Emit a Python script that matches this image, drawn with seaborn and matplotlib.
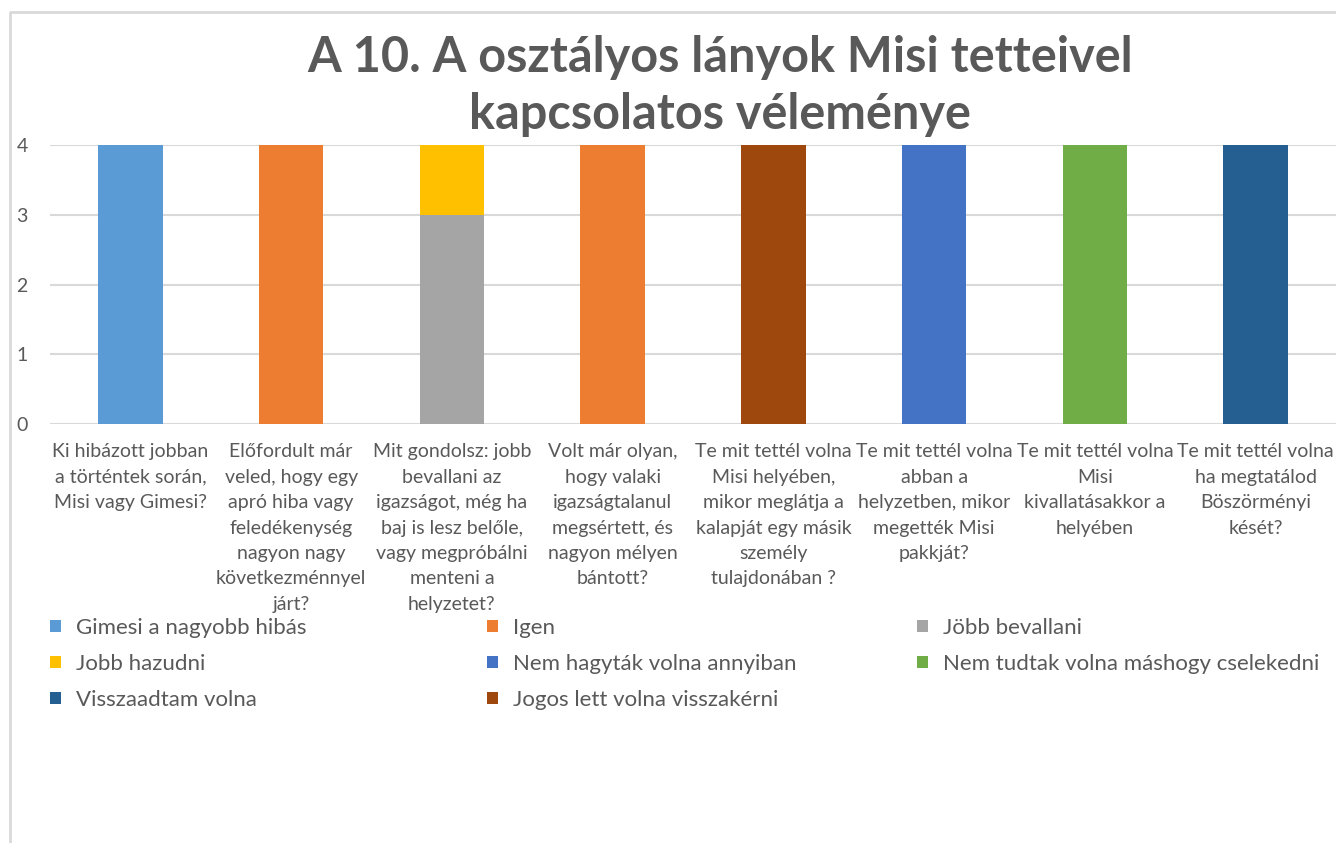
import numpy as np
import pandas as pd
import seaborn as sns
import matplotlib.pyplot as plt
from matplotlib.patches import Patch
from matplotlib.lines import Line2D

# kérdések (x tengely)
questions = [
    "Ki hibázott jobban\na történtek során,\nMisi vagy Gimesi?",
    "Előfordult már\nveled, hogy egy\napró hiba vagy\nfeledékenység\nnagyon nagy\nkövetkezménnyel\njárt?",
    "Mit gondolsz: jobb\nbevallani az\nigazságot, még ha\nbaj is lesz belőle,\nvagy megpróbálni\nmenteni a\nhelyzetet?",
    "Volt már olyan,\nhogy valaki\nigazságtalanul\nmegsértett, és\nnagyon mélyen\nbántott?",
    "Te mit tettél volna\nMisi helyében,\nmikor meglátja a\nkalapját egy másik\nszemély\ntulajdonában ?",
    "Te mit tettél volna\nabban a\nhelyzetben, mikor\nmegették Misi\npakkját?",
    "Te mit tettél volna\nMisi\nkivallatásakkor a\nhelyében",
    "Te mit tettél volna\nha megtatálod\nBöszörményi\nkését?",
]

# válaszok (sorozatok) és darabszámok kérdésenként
answers = [
    "Gimesi a nagyobb hibás",
    "Igen",
    "Jöbb bevallani",
    "Jobb hazudni",
    "Nem hagyták volna annyiban",
    "Nem tudtak volna máshogy cselekedni",
    "Visszaadtam volna",
    "Jogos lett volna visszakérni",
]
gimesi = [4, 0, 0, 0, 0, 0, 0, 0]
igen = [0, 4, 0, 4, 0, 0, 0, 0]
bevallani = [0, 0, 3, 0, 0, 0, 0, 0]
hazudni = [0, 0, 1, 0, 0, 0, 0, 0]
nem_hagytak = [0, 0, 0, 0, 0, 4, 0, 0]
nem_tudtak = [0, 0, 0, 0, 0, 0, 4, 0]
visszaadtam = [0, 0, 0, 0, 0, 0, 0, 4]
jogos = [0, 0, 0, 0, 4, 0, 0, 0]

colors = ["#5B9BD5", "#ED7D31", "#A5A5A5", "#FFC000",
          "#4472C4", "#70AD47", "#255E91", "#9E480E"]

yticks = [0, 1, 2, 3, 4]
title = "A 10. A osztályos lányok Misi tetteivel\nkapcsolatos véleménye"

TEXT = "#595959"
GRID = "#D9D9D9"
FONT = "Lato"

sns.set_theme(style="white")
plt.rcParams["font.family"] = [FONT, "DejaVu Sans"]

values = np.array([gimesi, igen, bevallani, hazudni,
                   nem_hagytak, nem_tudtak, visszaadtam, jogos])
cum = np.cumsum(values, axis=0)

fig = plt.figure(figsize=(13.36, 8.43), dpi=100)
ax = fig.add_axes([50 / 1336, 1 - 424 / 843, 1 - 50 / 1336, (424 - 145) / 843])

# halmozott oszlopok: a kumulált magasságokat felülről lefelé rajzoljuk
for i in reversed(range(len(answers))):
    df = pd.DataFrame({"kerdes": questions, "db": cum[i]})
    sns.barplot(data=df, x="kerdes", y="db", color=colors[i], saturation=1,
                width=0.4, errorbar=None, linewidth=0, ax=ax, zorder=3)

ax.set_ylim(0, 4)
ax.set_xlim(-0.5, len(questions) - 0.5)
ax.set_yticks(yticks)
ax.yaxis.grid(True, color=GRID, linewidth=1.5, zorder=0)
ax.set_axisbelow(True)
for s in ax.spines.values():
    s.set_visible(False)
ax.set_xlabel("")
ax.set_ylabel("")
ax.tick_params(axis="both", length=0, colors=TEXT, labelsize=14)
ax.tick_params(axis="y", pad=16)
ax.tick_params(axis="x", pad=14)
ax.set_xticks(range(len(questions)))
ax.set_xticklabels(questions, linespacing=1.6, ha="center", va="top")

fig.text(720 / 1336, 1 - 86 / 843, title, ha="center", va="center",
         fontsize=35, fontweight="bold", color=TEXT, linespacing=1.35)

# jelmagyarázat: három oszlop, soronként olvasva
handles = [Patch(facecolor=c, edgecolor="none") for c in colors]
col_x = [50, 487, 917]
for k in range(3):
    idx = list(range(k, len(answers), 3))
    fig.legend([handles[j] for j in idx], [answers[j] for j in idx],
               loc="upper left", bbox_to_anchor=(col_x[k] / 1336, 1 - 618 / 843),
               frameon=False, fontsize=16, labelcolor=TEXT,
               handlelength=0.5, handleheight=0.5, handletextpad=0.65,
               labelspacing=0.72, borderpad=0, borderaxespad=0)

# diagramterület kerete
fig.add_artist(Line2D([10 / 1336, 10 / 1336, 1], [0, 1 - 12 / 843, 1 - 12 / 843],
                      transform=fig.transFigure, color=GRID, linewidth=2))

fig.savefig("out.png", dpi=100)
